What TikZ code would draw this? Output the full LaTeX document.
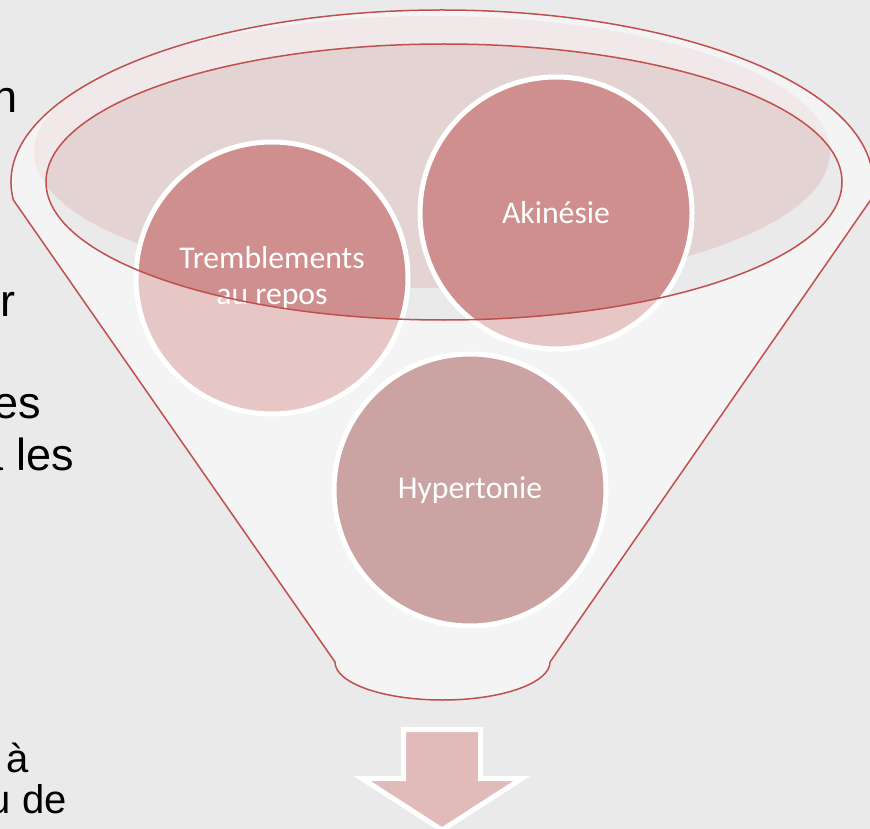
\documentclass[tikz,border=0pt]{standalone}
\usepackage{fontspec}
\setmainfont{Liberation Sans}
\newfontfamily\calib{Carlito}
\usepackage{tikz}

\definecolor{bgray}{HTML}{EAEAEA}
\definecolor{funred}{HTML}{C0504D}
\definecolor{liquid}{HTML}{E4D3D3}
\definecolor{bubfill}{HTML}{CE8F8E}
\definecolor{hypfill}{HTML}{CBA3A3}
\definecolor{arrfill}{HTML}{E0BBBA}

\begin{document}
\begin{tikzpicture}[x=1pt,y=1pt,
  bubble/.style={circle,draw=white,line width=5pt,inner sep=0pt,minimum size=272pt,
    text=white,align=center,font=\calib\fontsize{31.7}{36}\selectfont},
  sidetext/.style={anchor=base east,inner sep=0pt,font=\fontsize{45}{52}\selectfont},
  subtext/.style={anchor=base east,inner sep=0pt,font=\fontsize{40}{46}\selectfont},
  rim/.style={draw=funred,line width=1.5pt}]
\useasboundingbox (0,0) rectangle (870,-829);
\clip (0,0) rectangle (870,-829);
\fill[bgray] (0,0) rectangle (870,-829);

% cut-off text of the left column
\node[sidetext] (ln1) at (18,-113) {n};
\node[sidetext] (ln2) at (16,-316) {r};
\node[sidetext] (ln3) at (41,-418) {es};
\node[sidetext] (ln4) at (74,-470) {a les};
\node[subtext] (ln5) at (29,-772) {à};
\node[subtext] (ln6) at (67,-813) {u de};

% liquid in the funnel
\fill[liquid] (432,-152) ellipse[x radius=398,y radius=136];

\node[bubble,fill=bubfill] (trem) at (272,-278) {Tremblements\\au repos};
\node[bubble,fill=bubfill] (akin) at (556,-213) {Akinésie};

% funnel body (see-through) and its rim
\path[rim,fill=white,fill opacity=0.5,even odd rule]
  (335,-662) -- ([shift={(442,-182)}]186:431 and 172)
  arc[start angle=186,end angle=-6,x radius=431,y radius=172]
  -- (550,-662) arc[start angle=0,end angle=-180,x radius=107.5,y radius=38] -- cycle
  (444,-182) ellipse[x radius=398,y radius=138];

\node[bubble,fill=hypfill] (hyper) at (470,-490) {Hypertonie};

\draw[white,line width=5pt,fill=arrfill,line join=miter]
  (403.5,-729.5) -- (480.5,-729.5) -- (480.5,-778.5) -- (522,-778.5)
  -- (442,-830) -- (362,-778.5) -- (403.5,-778.5) -- cycle;
\end{tikzpicture}
\end{document}
